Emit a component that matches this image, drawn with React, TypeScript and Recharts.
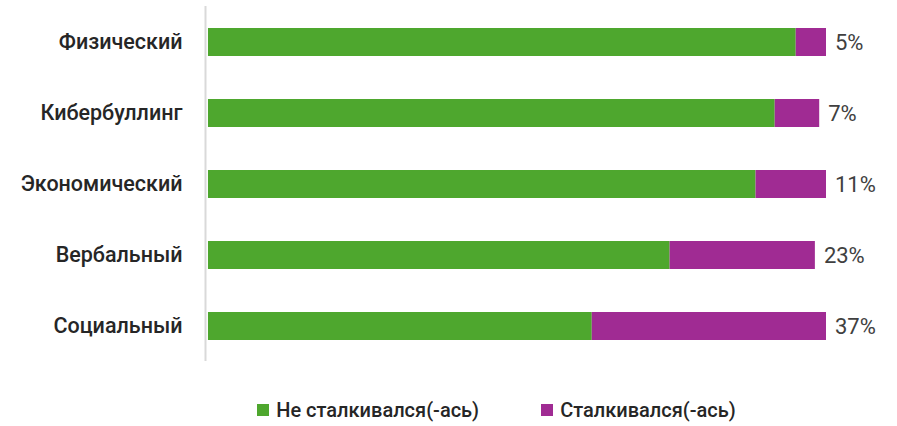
import React from "react";
import { BarChart, Bar, XAxis, YAxis, Legend, LabelList } from "recharts";

const categories = ["Физический", "Кибербуллинг", "Экономический", "Вербальный", "Социальный"];
const notEncountered = [95.1, 91.7, 88.6, 74.7, 62.1];
const encountered = [4.9, 7.2, 11.4, 23.5, 37.9];
const encounteredLabels = ["5%", "7%", "11%", "23%", "37%"];
const seriesNames = ["Не сталкивался(-ась)", "Сталкивался(-ась)"];
const seriesColors = ["#4ea72e", "#a02b93"];

const data = categories.map((c, i) => ({
  name: c,
  no: notEncountered[i],
  yes: encountered[i],
  label: encounteredLabels[i],
}));

const FONT = "Roboto, 'Noto Sans', sans-serif";

const renderLegend = () => (
  <div
    style={{
      display: "flex",
      justifyContent: "center",
      paddingLeft: 96,
      gap: 62,
      fontFamily: FONT,
      fontSize: 20,
      fontWeight: 500,
      lineHeight: "24px",
      color: "#262626",
    }}
  >
    {seriesNames.map((n, i) => (
      <div key={n} style={{ display: "flex", alignItems: "center" }}>
        <div style={{ width: 12, height: 12, background: seriesColors[i], marginRight: 7 }} />
        <span>{n}</span>
      </div>
    ))}
  </div>
);

export default function App() {
  return (
    <div style={{ position: "absolute", left: 0, top: 0, width: 897, height: 426, background: "#fff" }}>
      <BarChart
        width={897}
        height={426}
        layout="vertical"
        data={data}
        margin={{ top: 6, right: 71, bottom: 41, left: 0 }}
        barSize={28}
      >
        <XAxis type="number" domain={[-0.4, 100]} hide />
        <YAxis
          type="category"
          dataKey="name"
          width={205.5}
          axisLine={{ stroke: "#d9d9d9", strokeWidth: 2 }}
          tickLine={false}
          tickSize={0}
          tickMargin={23}
          tick={{ fill: "#262626", fontSize: 21.5, fontWeight: 500, fontFamily: FONT }}
        />
        <Legend verticalAlign="bottom" content={renderLegend} wrapperStyle={{ left: 0, width: 897, bottom: 4 }} />
        <Bar dataKey="no" stackId="a" fill={seriesColors[0]} isAnimationActive={false} />
        <Bar dataKey="yes" stackId="a" fill={seriesColors[1]} isAnimationActive={false}>
          <LabelList
            dataKey="label"
            position="right"
            offset={9}
            style={{ fill: "#404040", fontSize: 22, fontWeight: 400, fontFamily: FONT }}
          />
        </Bar>
      </BarChart>
    </div>
  );
}
